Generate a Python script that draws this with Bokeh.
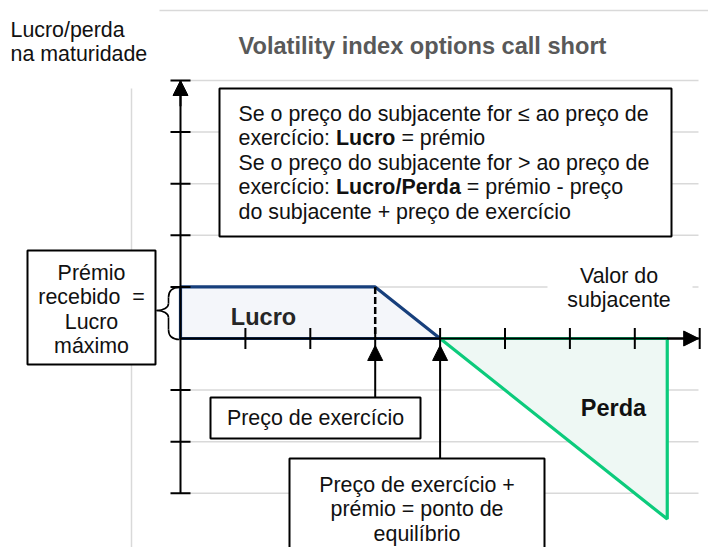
from bokeh.plotting import figure
from bokeh.models import Range1d, Arrow, NormalHead
from bokeh.core.properties import value
from bokeh.embed import file_html
from bokeh.resources import INLINE

# ---------------- data ----------------
underlying = [0, 3, 4, 7.5]        # underlying value at the payoff break points
payoff = [1, 1, 0, -3.5]           # profit / loss at maturity
strike = 3
premium = 1
breakeven = strike + premium
x_ticks = [1, 2, 3, 4, 5, 6, 7, 8]
y_ticks = [-3, -2, -1, 1, 2, 3, 4, 5]
x_axis_end = 8
y_axis_min, y_axis_max = -3, 5

title_text = "Volatility index options call short"
y_label = ["Lucro/perda", "na maturidade"]
x_label = ["Valor do", "subjacente"]
box_top = [
    [("Se o preço do subjacente for ≤ ao preço de", "normal")],
    [("exercício: ", "normal"), ("Lucro", "bold"), (" = prémio", "normal")],
    [("Se o preço do subjacente for > ao preço de", "normal")],
    [("exercício: ", "normal"), ("Lucro/Perda", "bold"), (" = prémio - preço", "normal")],
    [("do subjacente + preço de exercício", "normal")],
]
box_left = ["Prémio", "recebido\u00a0 =", "Lucro", "máximo"]
box_strike = ["Preço de exercício"]
box_be = ["Preço de exercício +", "prémio = ponto de", "equilíbrio"]

# ---------------- layout helpers (pixel layout -> data space) ----------------
X0, XS = 180.0, 64.9     # px of x=0, px per x unit
Y0, YS = 338.0, 51.6     # px of y=0, px per y unit
OFF = 0                  # where the figure sits on the page
W, H = 708, 547

def dx(px):
    return (px - X0) / XS

def dy(py):
    return (Y0 - py) / YS

FONT = value("Liberation Sans")
FS = 21.4
# Arial-compatible advance widths (1/1000 em) for fragment placement
W_REG = {" ": 278, "e": 556, "x": 500, "r": 333, "c": 500, "í": 278, "i": 222,
         "o": 556, ":": 278}
W_BOLD = {"L": 611, "u": 611, "c": 556, "r": 389, "o": 611, "/": 278, "P": 667,
          "e": 556, "d": 611, "a": 556, " ": 278}

def text_w(s, style):
    table = W_BOLD if style == "bold" else W_REG
    return sum(table.get(ch, 556) for ch in s) * FS / 1000.0

p = figure(width=W, height=H,
           x_range=Range1d(dx(OFF), dx(OFF + W)),
           y_range=Range1d(dy(OFF + H), dy(OFF)),
           output_backend="svg", toolbar_location=None,
           x_axis_location=None, y_axis_location=None,
           min_border=0, outline_line_color=None,
           background_fill_color="white", border_fill_color="white")
p.grid.visible = False

GRID = "#d9d9d9"
# chart frame lines
p.segment(x0=[dx(159)], y0=[dy(10)], x1=[dx(712)], y1=[dy(10)], line_color=GRID, line_width=1.5)
p.segment(x0=[dx(131)], y0=[dy(88)], x1=[dx(131)], y1=[dy(560)], line_color=GRID, line_width=1.5)
# gridlines
p.segment(x0=[0] * len(y_ticks), y0=y_ticks, x1=[dx(698)] * len(y_ticks), y1=y_ticks,
          line_color=GRID, line_width=1.5)

# white background behind x label
p.quad(left=[dx(547)], right=[dx(692)], top=[dy(262)], bottom=[dy(312)],
       fill_color="white", line_color=None)

# profit and loss areas
BLUE = "#173f7c"
GREEN = "#0ccb7c"
lucro_x = [underlying[0], underlying[1], underlying[2], underlying[0]]
lucro_y = [payoff[0], payoff[1], payoff[2], 0]
perda_x = [underlying[2], underlying[3], underlying[3]]
perda_y = [payoff[2], payoff[3], 0]
p.patch(lucro_x, lucro_y, fill_color="#f4f6fa", line_color=BLUE, line_width=3.2)
p.patch(perda_x, perda_y, fill_color="#eef8f4", line_color=GREEN, line_width=3.2)

# dashed strike line
p.segment(x0=[strike], y0=[payoff[1]], x1=[strike], y1=[0], line_color="black",
          line_width=2.5, line_dash="7 3")

# axes
p.segment(x0=[0], y0=[y_axis_min], x1=[0], y1=[y_axis_max], line_color="black", line_width=2)
p.segment(x0=[0], y0=[0], x1=[x_axis_end], y1=[0], line_color="black", line_width=2)
tx = 10 / XS
p.segment(x0=[-tx] * len(y_ticks), y0=y_ticks, x1=[tx] * len(y_ticks), y1=y_ticks,
          line_color="black", line_width=2)
ty = 10.5 / YS
p.segment(x0=x_ticks, y0=[-ty] * len(x_ticks), x1=x_ticks, y1=[ty] * len(x_ticks),
          line_color="black", line_width=2)
p.add_layout(Arrow(end=NormalHead(size=15, fill_color="black", line_color="black"),
                   x_start=0, y_start=y_axis_max - 0.5, x_end=0, y_end=y_axis_max,
                   line_color="black", line_width=2))
p.add_layout(Arrow(end=NormalHead(size=15, fill_color="black", line_color="black"),
                   x_start=x_axis_end - 0.5, y_start=0, x_end=x_axis_end - 1 / XS, y_end=0,
                   line_color="black", line_width=2))

# brace
bz = [
    ((179, 287), (172, 287), (168, 290), (168, 297)),
    ((168, 297), (168, 299), (168, 301), (168, 303)),
    ((168, 303), (168, 307), (163, 310), (156, 310)),
    ((156, 310), (163, 310), (168, 313), (168, 317)),
    ((168, 317), (168, 321), (168, 325), (168, 329)),
    ((168, 329), (168, 336), (172, 339), (179, 339)),
]
p.bezier(x0=[dx(a[0]) for a, b, c, d in bz], y0=[dy(a[1]) for a, b, c, d in bz],
         cx0=[dx(b[0]) for a, b, c, d in bz], cy0=[dy(b[1]) for a, b, c, d in bz],
         cx1=[dx(c[0]) for a, b, c, d in bz], cy1=[dy(c[1]) for a, b, c, d in bz],
         x1=[dx(d[0]) for a, b, c, d in bz], y1=[dy(d[1]) for a, b, c, d in bz],
         line_color="black", line_width=1.6)

# boxes
def box(l, t, r, b):
    p.quad(left=[dx(l)], right=[dx(r)], top=[dy(t)], bottom=[dy(b)],
           fill_color="white", line_color="black", line_width=2)

box(219, 88, 671, 236)
box(27, 250, 155, 364)
box(210, 397, 420, 438)
box(289, 458, 544, 580)

# pointer arrows
for x_pt, top_px in [(strike, 397), (breakeven, 458)]:
    p.add_layout(Arrow(end=NormalHead(size=15, fill_color="black", line_color="black"),
                       x_start=x_pt, y_start=dy(top_px), x_end=x_pt, y_end=dy(345),
                       line_color="black", line_width=2))

def txt(x, y, s, size=FS, style="normal", align="left", color="#111111"):
    p.text(x=[x], y=[y], text=[s], text_font=FONT, text_font_size=f"{size}px",
           text_font_style=style, text_align=align, text_baseline="middle",
           text_color=color)

# title and axis labels
txt(dx(422), dy(45), title_text, size=23.6, style="bold", align="center", color="#595959")
for i, s in enumerate(y_label):
    txt(dx(10), dy(29 + 24.5 * i), s)
for i, s in enumerate(x_label):
    txt(dx(618.5), dy(275.5 + 24 * i), s, align="center")

# area labels
txt(dx(263), dy(316.5), "Lucro", size=23.5, style="bold", align="center", color="#262626")
txt(dx(613), dy(407), "Perda", size=23.5, style="bold", align="center", color="#111111")

# top box text (mixed regular / bold fragments placed side by side)
for i, frags in enumerate(box_top):
    xpx = 238.0
    for s, style in frags:
        lead = len(s) - len(s.lstrip(" "))
        xpx += text_w(s[:lead], style)
        body = s.strip(" ")
        txt(dx(xpx), dy(113 + 24.5 * i), body, style=style)
        xpx += text_w(s[lead:], style)

for i, s in enumerate(box_left):
    txt(dx(91), dy(272 + 24.5 * i), s, align="center")
for i, s in enumerate(box_strike):
    txt(dx(315), dy(417.5 + 24.5 * i), s, align="center")
for i, s in enumerate(box_be):
    txt(dx(416.5), dy(484 + 24.5 * i), s, align="center")

open("out.html", "w").write(file_html(p, INLINE))
